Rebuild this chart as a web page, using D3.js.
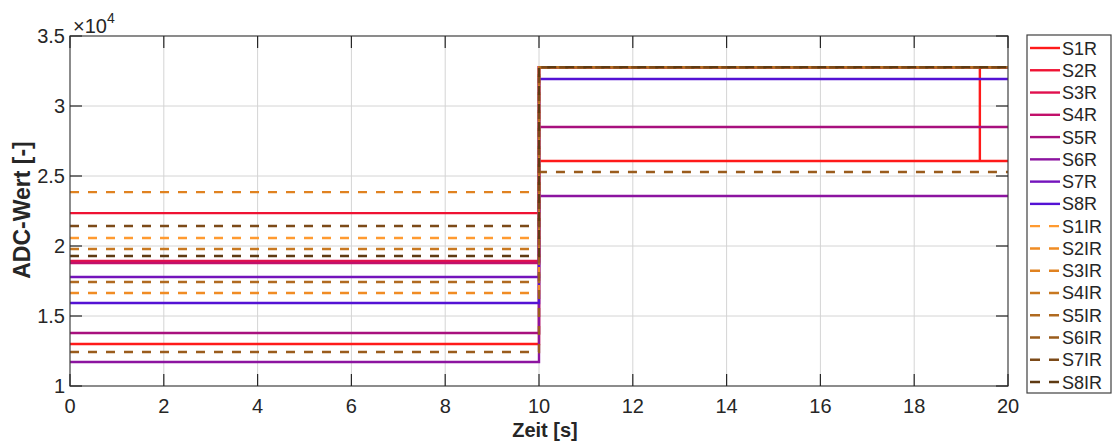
<!DOCTYPE html>
<html>
<head>
<meta charset="utf-8">
<script src="https://d3js.org/d3.v7.min.js"></script>
<style>
  body { margin: 0; background: #fff; }
  text { font-family: "Liberation Sans", Arial, sans-serif; }
</style>
</head>
<body>
<svg id="chart" width="1115" height="443"></svg>
<script>
// series names (legend order)
const seriesNames = ["S1R","S2R","S3R","S4R","S5R","S6R","S7R","S8R",
                     "S1IR","S2IR","S3IR","S4IR","S5IR","S6IR","S7IR","S8IR"];
const seriesColors = ["#ff1a1a","#ef1233","#e0104e","#c2106a","#a8107e","#8c14a0","#7414bc","#5412d4",
                      "#ff9a30","#f08c24","#e08220","#c87820","#b06a20","#9a5c1c","#7c4a18","#5e3a12"];
const dashed = [false,false,false,false,false,false,false,false,
                true,true,true,true,true,true,true,true];
// ADC values before and after the step at t = 10 s
const stepTime = 10;
const valuesBefore = [13000, 22350, 18930, 18790, 13790, 11710, 17790, 15930,
                      20570, 16640, 23850, 19790, 17430, 12430, 21430, 19290];
const valuesAfter  = [26070, 32767, 32767, 32767, 28500, 23570, 32767, 31930,
                      32767, 32767, 32767, 32767, 32767, 25290, 32767, 32767];
// short spike of S1R
const spikeSeries = "S1R";
const spikeTime = 19.4;
const spikeValue = 32767;

const xTicks = [0, 2, 4, 6, 8, 10, 12, 14, 16, 18, 20];
const yTicks = [10000, 15000, 20000, 25000, 30000, 35000];

const svg = d3.select("#chart");
const x = d3.scaleLinear().domain([0, 20]).range([70, 1008]);
const y = d3.scaleLinear().domain([10000, 35000]).range([386, 36]);

// grid
svg.append("g").selectAll("line").data(xTicks.slice(1, -1)).enter().append("line")
  .attr("x1", d => x(d)).attr("x2", d => x(d))
  .attr("y1", y(35000)).attr("y2", y(10000))
  .attr("stroke", "#d4d4d4").attr("stroke-width", 1);
svg.append("g").selectAll("line").data(yTicks.slice(1, -1)).enter().append("line")
  .attr("x1", x(0)).attr("x2", x(20))
  .attr("y1", d => y(d)).attr("y2", d => y(d))
  .attr("stroke", "#d4d4d4").attr("stroke-width", 1);

// lines
const line = d3.line().x(d => x(d[0])).y(d => y(d[1]));
const series = seriesNames.map((name, i) => {
  let pts = [[0, valuesBefore[i]], [stepTime, valuesBefore[i]], [stepTime, valuesAfter[i]]];
  if (name === spikeSeries) {
    pts.push([spikeTime, valuesAfter[i]], [spikeTime, spikeValue], [spikeTime, valuesAfter[i]]);
  }
  pts.push([20, valuesAfter[i]]);
  return {name: name, color: seriesColors[i], dashed: dashed[i], pts: pts};
});

svg.append("g").selectAll("path").data(series).enter().append("path")
  .attr("d", d => line(d.pts))
  .attr("fill", "none")
  .attr("stroke", d => d.color)
  .attr("stroke-width", 2.4)
  .attr("stroke-dasharray", d => d.dashed ? "9,9" : null);

// axes box and ticks
const ax = svg.append("g");
ax.append("rect").attr("x", x(0)).attr("y", y(35000))
  .attr("width", x(20) - x(0)).attr("height", y(10000) - y(35000))
  .attr("fill", "none").attr("stroke", "#404040").attr("stroke-width", 1.2);
const tl = 12;
xTicks.forEach(t => {
  ax.append("line").attr("x1", x(t)).attr("x2", x(t)).attr("y1", y(10000)).attr("y2", y(10000) - tl)
    .attr("stroke", "#262626").attr("stroke-width", 1.2);
  ax.append("line").attr("x1", x(t)).attr("x2", x(t)).attr("y1", y(35000)).attr("y2", y(35000) + tl)
    .attr("stroke", "#262626").attr("stroke-width", 1.2);
  ax.append("text").attr("x", x(t)).attr("y", 413)
    .attr("text-anchor", "middle").attr("font-size", 20).attr("fill", "#262626")
    .text(t);
});
yTicks.forEach(v => {
  ax.append("line").attr("x1", x(0)).attr("x2", x(0) + tl).attr("y1", y(v)).attr("y2", y(v))
    .attr("stroke", "#262626").attr("stroke-width", 1.2);
  ax.append("line").attr("x1", x(20)).attr("x2", x(20) - tl).attr("y1", y(v)).attr("y2", y(v))
    .attr("stroke", "#262626").attr("stroke-width", 1.2);
  ax.append("text").attr("x", 65).attr("y", y(v) + 7)
    .attr("text-anchor", "end").attr("font-size", 20).attr("fill", "#262626")
    .text(d3.format("~g")(v / 10000));
});

// exponent label
const ex = ax.append("text").attr("x", 73).attr("y", 33).attr("font-size", 20).attr("fill", "#262626");
ex.append("tspan").text("\u00d710");
ex.append("tspan").attr("dy", -10).attr("font-size", 14).text("4");

// axis labels
svg.append("text").attr("x", 545).attr("y", 437)
  .attr("text-anchor", "middle").attr("font-size", 20).attr("font-weight", "bold").attr("fill", "#262626")
  .text("Zeit [s]");
svg.append("text").attr("transform", "translate(30,210) rotate(-90)")
  .attr("text-anchor", "middle").attr("font-size", 23).attr("font-weight", "bold").attr("fill", "#262626")
  .text("ADC-Wert [-]");

// legend
const lg = svg.append("g");
lg.append("rect").attr("x", 1027).attr("y", 35).attr("width", 84).attr("height", 358)
  .attr("fill", "#fff").attr("stroke", "#404040").attr("stroke-width", 1.2);
const item = lg.selectAll("g.item").data(series).enter().append("g")
  .attr("class", "item")
  .attr("transform", (d, i) => "translate(0," + (48 + i * 22.27) + ")");
item.append("line").attr("x1", 1030).attr("x2", 1060).attr("y1", 0).attr("y2", 0)
  .attr("stroke", d => d.color).attr("stroke-width", 2.4)
  .attr("stroke-dasharray", d => d.dashed ? "10,9" : null);
item.append("text").attr("x", 1062).attr("y", 6.5)
  .attr("font-size", 18).attr("fill", "#262626")
  .text(d => d.name);
</script>
</body>
</html>
